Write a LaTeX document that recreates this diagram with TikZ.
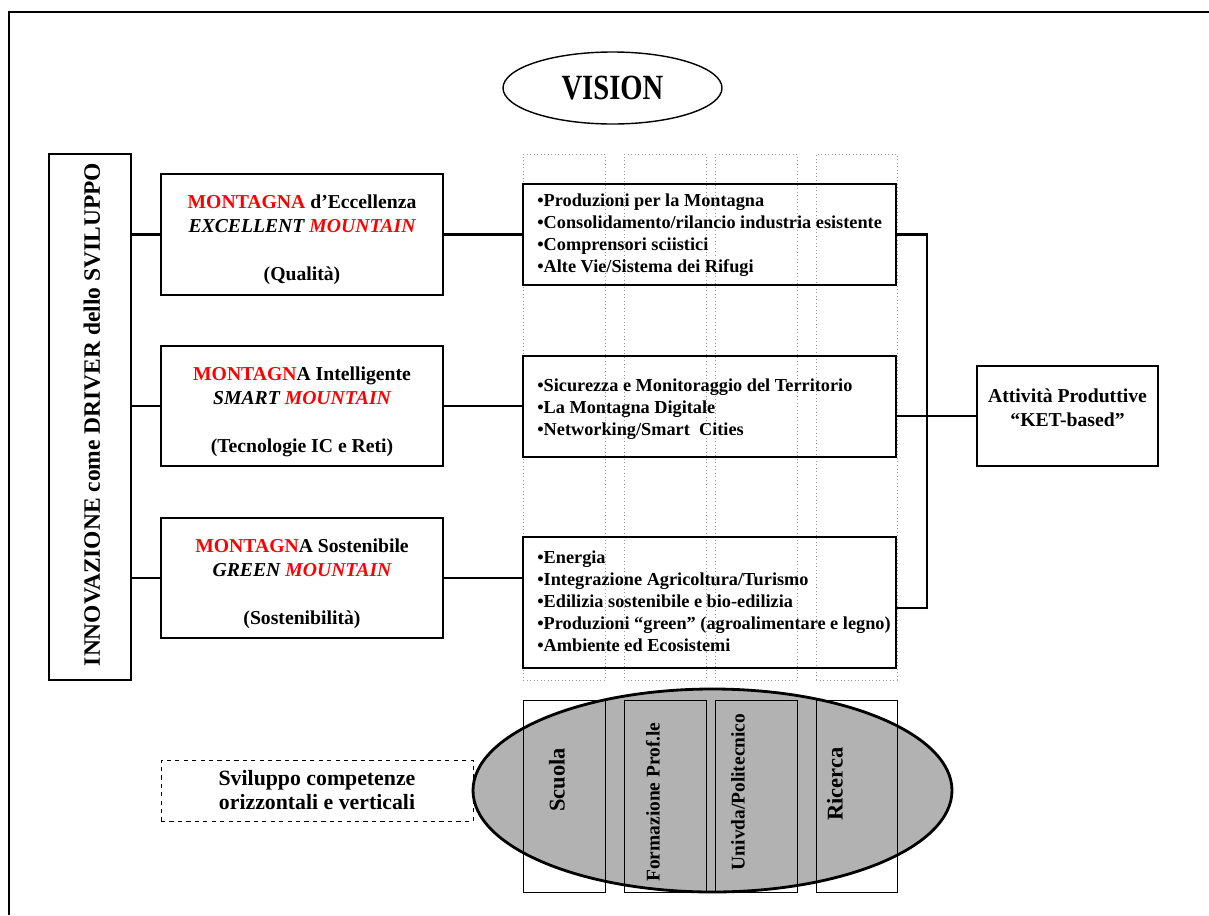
\documentclass[tikz,border=0pt]{standalone}
\usepackage{fontspec}
\setmainfont{Liberation Serif}
\usetikzlibrary{shapes.geometric}
\definecolor{ovalgray}{RGB}{178,178,178}
\newcommand{\mred}[1]{\textcolor{red}{#1}}
\begin{document}
\begin{tikzpicture}[x=0.025cm,y=-0.025cm,
  sz/.style 2 args={minimum width=#1*0.025cm, minimum height=#2*0.025cm},
  frame/.style={draw, line width=0.9pt, inner sep=0pt},
  column/.style={draw, line width=0.7pt, inner sep=0pt},
  guide/.style={draw=gray!80, dotted, line width=0.5pt, inner sep=0pt},
  wire/.style={line width=1.5pt},
  title/.style={align=center, inner sep=0pt, font=\bfseries\fontsize{14}{17}\selectfont},
  list/.style={align=left, inner sep=0pt, anchor=west, font=\bfseries\fontsize{13}{15.6}\selectfont},
  vtext/.style={rotate=90, inner sep=0pt, font=\bfseries\fontsize{13.8}{16}\selectfont},
  vbig/.style={rotate=90, inner sep=0pt, font=\bfseries\fontsize{16}{18}\selectfont}]
\useasboundingbox (0,0) rectangle (1209,915);

% outer frame
\draw[line width=1.6pt] (9,915) -- (9,12) -- (1209,12);

% vision
\node[draw, ellipse, line width=1pt, sz={219}{72}, inner sep=0pt,
      font=\bfseries\fontsize{21}{24}\selectfont] (vision) at (612.5,88) {\scalebox{0.97}[1.2]{VISION}};

% innovation as the driver
\node[frame, sz={82}{526}] (drv) at (90,417) {};
\node[rotate=90, inner sep=0pt, font=\bfseries\fontsize{16.7}{19}\selectfont] (drvt) at (92,414.5)
  {INNOVAZIONE come DRIVER dello SVILUPPO};

% dotted guide columns
\node[guide, sz={82}{526}] (g1) at (564,417) {};
\node[guide, sz={82}{526}] (g2) at (665,417) {};
\node[guide, sz={82}{526}] (g3) at (756,417) {};
\node[guide, sz={81}{526}] (g4) at (856.5,417) {};

% three mountain themes
\node[frame, sz={282}{121}] (q1) at (302,234.5) {};
\node[title] (q1t) at (302,240) {\mred{MONTAGNA} d’Eccellenza\\\textit{EXCELLENT \mred{MOUNTAIN}}\\[17pt](Qualità)};
\node[frame, sz={282}{120}] (q2) at (302,406) {};
\node[title] (q2t) at (302,412) {\mred{MONTAGN}A Intelligente\\\textit{SMART \mred{MOUNTAIN}}\\[17pt](Tecnologie IC e Reti)};
\node[frame, sz={282}{120}] (q3) at (302,578) {};
\node[title] (q3t) at (302,584) {\mred{MONTAGN}A Sostenibile\\\textit{GREEN \mred{MOUNTAIN}}\\[17pt](Sostenibilità)};

% lists of actions
\node[frame, sz={373}{101}] (m1) at (709.5,234.5) {};
\node[list] (m1t) at (537,235) {•Produzioni per la Montagna\\•Consolidamento/rilancio industria esistente\\•Comprensori sciistici\\•Alte Vie/Sistema dei Rifugi};
\node[frame, sz={373}{101}] (m2) at (709.5,406.5) {};
\node[list] (m2t) at (537,409.5) {•Sicurezza e Monitoraggio del Territorio\\•La Montagna Digitale\\•Networking/Smart~ Cities};
\node[frame, sz={373}{131}] (m3) at (709.5,602.5) {};
\node[list] (m3t) at (537,601) {•Energia\\•Integrazione Agricoltura/Turismo\\•Edilizia sostenibile e bio-edilizia\\•Produzioni “green” (agroalimentare e legno)\\•Ambiente ed Ecosistemi};

% productive activities
\node[frame, sz={181}{100}] (att) at (1067.5,416) {};
\node[title] (attt) at (1067.5,407.5) {Attività Produttive\\“KET-based”};

% connectors
\draw[wire] (q1.west) -- (q1.west -| drv.east);
\draw[wire] (q2.west) -- (q2.west -| drv.east);
\draw[wire] (q3.west) -- (q3.west -| drv.east);
\draw[wire] (q1.east) -- (m1.west);
\draw[wire] (q2.east) -- (q2.east -| m2.west);
\draw[wire] (q3.east) -- (q3.east -| m3.west);
\coordinate (bk1) at (927,234.5);
\coordinate (bk3) at (927,608);
\draw[wire] (m1.east) -- (bk1) -- (bk3) -- (bk3 -| m3.east);
\draw[wire] (att.west) -- (att.west -| m2.east);

% skills oval and the four pillars
\node[draw, ellipse, fill=ovalgray, line width=2pt, sz={479}{203}] (oval) at (712.5,790.5) {};
\node[column, sz={82}{192}] (c1) at (564,796) {};
\node[column, sz={82}{192}] (c2) at (665,796) {};
\node[column, sz={82}{192}] (c3) at (756,796) {};
\node[column, sz={81}{192}] (c4) at (856.5,796) {};
\node[vbig] (c1t) at (557,780) {Scuola};
\node[vtext] (c2t) at (653,802) {Formazione Prof.le};
\node[vtext] (c3t) at (738,792) {Univda/Politecnico};
\node[vbig] (c4t) at (835,784) {Ricerca};

% skills development note
\node[draw, dashed, line width=0.7pt, sz={312}{61}, inner sep=0pt] (dev) at (317,790.5) {};
\node[align=center, inner sep=0pt, font=\bfseries\fontsize{15.5}{16.5}\selectfont] (devt) at (317,790) {Sviluppo competenze\\orizzontali e verticali};
\end{tikzpicture}
\end{document}
